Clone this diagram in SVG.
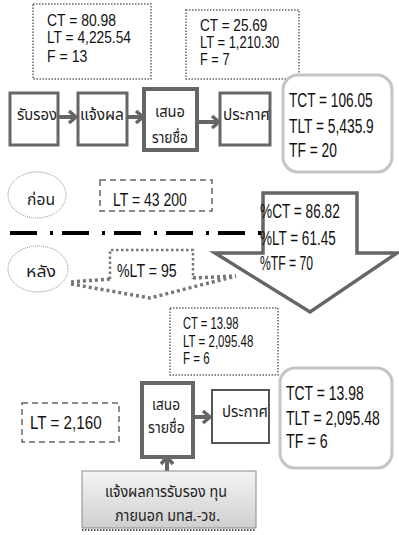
<svg xmlns="http://www.w3.org/2000/svg" width="399" height="535" viewBox="0 0 399 535">
<style>
.num{font-family:"Liberation Sans",Arial,sans-serif;fill:#111}
.th{font-family:"Noto Sans Thai","Noto Sans Thai UI","TLWG Typist","Loma","Garuda","Norasi","Noto Sans",sans-serif;fill:#222}
.proc{fill:#fff;stroke:#666;stroke-width:3}
.proc2{fill:#fff;stroke:#666;stroke-width:4}
.dotbox{fill:none;stroke:#666;stroke-width:1.5;stroke-dasharray:1.5 1.5}
.dashbox{fill:none;stroke:#666;stroke-width:1.5;stroke-dasharray:6 4}
.rbox{fill:#fff;stroke:#c4c4c4;stroke-width:3}
.ell{fill:#fff;stroke:#888;stroke-width:1;stroke-dasharray:1 1}
.conn{fill:none;stroke:#666;stroke-width:4}
</style>
<defs>
<marker id="chev" markerUnits="userSpaceOnUse" markerWidth="14" markerHeight="16" refX="9" refY="8" orient="auto">
<path d="M2,2 L9,8 L2,14" fill="none" stroke="#666" stroke-width="3.5"/>
</marker>
<linearGradient id="gray" x1="0" y1="0" x2="0" y2="1">
<stop offset="0" stop-color="#f4f4f4"/>
<stop offset="1" stop-color="#cfcfcf"/>
</linearGradient>
</defs>

<g id="stats-before-1">
<rect class="dotbox" x="33" y="4" width="118" height="75"/>
<text class="num" font-size="16" transform="translate(47,26) scale(0.87,1)">CT = 80.98</text>
<text class="num" font-size="16" transform="translate(47,43) scale(0.86,1)">LT = 4,225.54</text>
<text class="num" font-size="16" transform="translate(47,62) scale(0.88,1)">F = 13</text>
</g>

<g id="stats-before-2">
<rect class="dotbox" x="186" y="10" width="113" height="69"/>
<text class="num" font-size="16" transform="translate(200,31) scale(0.85,1)">CT = 25.69</text>
<text class="num" font-size="16" transform="translate(200,48) scale(0.81,1)">LT = 1,210.30</text>
<text class="num" font-size="16" transform="translate(200,65) scale(0.8,1)">F = 7</text>
</g>

<g id="connectors">
<line class="conn" x1="58" y1="117" x2="76" y2="117" marker-end="url(#chev)"/>
<line class="conn" x1="127" y1="117" x2="143" y2="117" marker-end="url(#chev)"/>
<line class="conn" x1="197" y1="122" x2="219" y2="122" marker-end="url(#chev)"/>
<line class="conn" x1="193" y1="417" x2="210" y2="417" marker-end="url(#chev)"/>
<line class="conn" x1="167" y1="471" x2="167" y2="457" marker-end="url(#chev)"/>
</g>

<g id="n-rabrong">
<rect class="proc" x="10" y="93" width="48" height="52"/>
<text class="th" x="17" y="120" font-size="15" textLength="40" lengthAdjust="spacingAndGlyphs">รับรอง</text>
</g>
<g id="n-jaengpon">
<rect class="proc" x="78" y="93" width="49" height="52"/>
<text class="th" x="80" y="120" font-size="15" textLength="44" lengthAdjust="spacingAndGlyphs">แจ้งผล</text>
</g>
<g id="n-sanoe">
<rect class="proc2" x="144" y="89" width="53" height="61"/>
<text class="th" x="155" y="117" font-size="15" textLength="30" lengthAdjust="spacingAndGlyphs">เสนอ</text>
<text class="th" x="152" y="143" font-size="15" textLength="36" lengthAdjust="spacingAndGlyphs">รายชื่อ</text>
</g>
<g id="n-prakat">
<rect class="proc" x="220" y="93" width="50" height="52"/>
<text class="th" x="223" y="120" font-size="15" textLength="47" lengthAdjust="spacingAndGlyphs">ประกาศ</text>
</g>

<g id="total-before">
<rect class="rbox" x="283" y="75" width="109" height="97" rx="15"/>
<text class="num" font-size="21" transform="translate(289,107) scale(0.651,1)">TCT = 106.05</text>
<text class="num" font-size="21" transform="translate(289,133) scale(0.655,1)">TLT = 5,435.9</text>
<text class="num" font-size="21" transform="translate(289,157) scale(0.658,1)">TF = 20</text>
</g>

<g id="label-before">
<ellipse class="ell" cx="37" cy="195" rx="29" ry="23"/>
<text class="th" x="27" y="205" font-size="15" textLength="28" lengthAdjust="spacingAndGlyphs">ก่อน</text>
</g>

<g id="lt-before">
<rect class="dashbox" x="100" y="180" width="112" height="31"/>
<text class="num" font-size="19" transform="translate(113,206) scale(0.736,1)">LT = 43 200</text>
</g>

<g id="divider">
<line x1="10" y1="233" x2="262" y2="233" stroke="#000" stroke-width="4" stroke-dasharray="27 13 3 9"/>
</g>

<g id="label-after">
<ellipse class="ell" cx="38" cy="269" rx="30" ry="23"/>
<text class="th" x="26" y="277" font-size="15" textLength="30" lengthAdjust="spacingAndGlyphs">หลัง</text>
</g>

<g id="lt-after-callout">
<polyline points="110,279 110,250 193,250 193,279" fill="none" stroke="#777" stroke-width="2.5" stroke-dasharray="2.5 2.5"/>
<path d="M71,282 L110,279 M193,278 L236,276 M71,284 L150,298 L236,276" fill="none" stroke="#777" stroke-width="3.5" stroke-dasharray="3 3"/>
<text class="num" font-size="19" transform="translate(117,277) scale(0.745,1)">%LT = 95</text>
</g>

<g id="improvement-arrow">
<polygon points="263,193 357,193 357,253 397,253 310,312 215,253 263,253" fill="#fff" stroke="#666" stroke-width="3.5"/>
<text class="num" font-size="21" transform="translate(260,218) scale(0.65,1)">%CT = 86.82</text>
<text class="num" font-size="21" transform="translate(260,245) scale(0.643,1)">%LT = 61.45</text>
<text class="num" font-size="21" transform="translate(260,270) scale(0.58,1)">%TF = 70</text>
</g>

<g id="stats-after">
<rect class="dotbox" x="170" y="308" width="108" height="67"/>
<text class="num" font-size="16" transform="translate(183,329) scale(0.7,1)">CT = 13.98</text>
<text class="num" font-size="16" transform="translate(183,347) scale(0.72,1)">LT = 2,095.48</text>
<text class="num" font-size="16" transform="translate(183,364) scale(0.72,1)">F = 6</text>
</g>

<g id="lt-after">
<rect class="dashbox" x="22" y="403" width="97" height="39"/>
<text class="num" font-size="19" transform="translate(30,429) scale(0.8,1)">LT = 2,160</text>
</g>

<g id="n-sanoe-after">
<rect class="proc2" x="142" y="383" width="51" height="74"/>
<text class="th" x="152" y="410" font-size="15" textLength="28" lengthAdjust="spacingAndGlyphs">เสนอ</text>
<text class="th" x="148" y="433" font-size="15" textLength="37" lengthAdjust="spacingAndGlyphs">รายชื่อ</text>
</g>

<g id="n-prakat-after">
<rect x="212" y="390" width="57" height="53" fill="#fff" stroke="#555" stroke-width="2"/>
<text class="th" x="222" y="417" font-size="15" textLength="46" lengthAdjust="spacingAndGlyphs">ประกาศ</text>
</g>

<g id="total-after">
<rect class="rbox" x="280" y="368" width="112" height="100" rx="15"/>
<text class="num" font-size="21" transform="translate(286,400) scale(0.665,1)">TCT = 13.98</text>
<text class="num" font-size="21" transform="translate(286,425) scale(0.665,1)">TLT = 2,095.48</text>
<text class="num" font-size="21" transform="translate(286,448) scale(0.68,1)">TF = 6</text>
</g>

<g id="n-notify-external">
<rect x="82" y="471" width="174" height="57" fill="url(#gray)" stroke="#8a8a8a" stroke-width="1"/>
<line x1="82" y1="530" x2="256" y2="530" stroke="#555" stroke-width="2" stroke-dasharray="1.5 1.5"/>
<text class="th" x="105" y="497" font-size="15" textLength="122" lengthAdjust="spacingAndGlyphs">แจ้งผลการรับรอง ทุน</text>
<text class="th" x="115" y="521" font-size="15" textLength="105" lengthAdjust="spacingAndGlyphs">ภายนอก มทส.-วช.</text>
</g>
</svg>
